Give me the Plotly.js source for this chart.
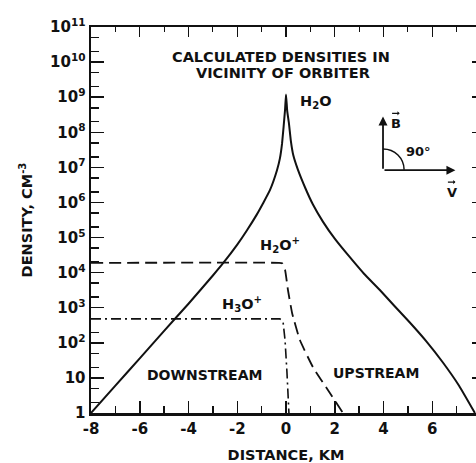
<!DOCTYPE html>
<html>
<head>
<meta charset="utf-8">
<script src="https://cdn.plot.ly/plotly-3.0.1.min.js"></script>
<style>
html, body { margin: 0; padding: 0; overflow: hidden; background: #fff; }
#chart { width: 484px; height: 463px; }
</style>
</head>
<body>
<div id="chart"></div>
<script>
// Distance (km) and densities (cm^-3)
const h2oDist = [-8, -7, -6, -5, -4, -3, -2.58, -2, -1.6, -1.2, -0.94, -0.66, -0.37, -0.25, -0.16, -0.04, 0, 0.05, 0.12, 0.2, 0.3, 0.48, 0.8, 1.1, 1.52, 2.0, 2.62, 3.2, 3.85, 4.45, 5.08, 5.75, 6.43, 7.1, 7.75];
const h2oDens = [1, 6.0, 3.6e1, 2.2e2, 1.3e3, 8.3e3, 1.86e4, 6.3e4, 1.62e5, 4.5e5, 9.5e5, 2.24e6, 8.3e6, 1.8e7, 4.9e7, 4.3e8, 1.2e9, 4.0e8, 1.8e8, 5.6e7, 2.2e7, 8.9e6, 2.5e6, 8.9e5, 2.8e5, 9.3e4, 2.75e4, 9.3e3, 3.2e3, 1.12e3, 3.8e2, 1.12e2, 2.8e1, 6.0, 1];

const h2opDist = [-8, -0.3, -0.16, -0.04, 0.08, 0.25, 0.57, 1.11, 1.8, 2.34];
const h2opDens = [1.9e4, 1.9e4, 1.85e4, 1.2e4, 3.2e3, 7.1e2, 1.2e2, 2.0e1, 3.7, 1];

const h3opDist = [-8, -0.25, -0.12, -0.04, 0.04, 0.12];
const h3opDens = [4.8e2, 4.8e2, 3.9e2, 1.2e2, 1.4e1, 1];

const xTickVals = [-8, -6, -4, -2, 0, 2, 4, 6, 8];
const xTickText = ["-8", "-6", "-4", "-2", "0", "2", "4", "6", "8"];
const xMinorVals = [-7, -5, -3, -1, 1, 3, 5, 7];
const yTickVals = [1, 1e1, 1e2, 1e3, 1e4, 1e5, 1e6, 1e7, 1e8, 1e9, 1e10, 1e11];
const yTickText = ["1", "10", "10<sup>2</sup>", "10<sup>3</sup>", "10<sup>4</sup>", "10<sup>5</sup>", "10<sup>6</sup>", "10<sup>7</sup>", "10<sup>8</sup>", "10<sup>9</sup>", "10<sup>10</sup>", "10<sup>11</sup>"];
const yMinorVals = [];
for (let e = 0; e < 11; e++) { yMinorVals.push(2 * Math.pow(10, e)); yMinorVals.push(5 * Math.pow(10, e)); }

const FONT = "DejaVu Sans, Verdana, sans-serif";
const INK = "#111";

const traces = [
  { x: h2oDist, y: h2oDens, mode: "lines", line: { color: INK, width: 2, shape: "spline", smoothing: 0.4 }, showlegend: false, hoverinfo: "skip" },
  { x: h2opDist, y: h2opDens, mode: "lines", line: { color: INK, width: 1.8, dash: "12px,6px", shape: "spline", smoothing: 0.4 }, showlegend: false, hoverinfo: "skip" },
  { x: h3opDist, y: h3opDens, mode: "lines", line: { color: INK, width: 1.6, dash: "10px,4px,2px,4px" }, showlegend: false, hoverinfo: "skip" },
  { x: [null], y: [null], xaxis: "x2", yaxis: "y2", mode: "lines", showlegend: false, hoverinfo: "skip" }
];

const tf = { family: FONT, size: 15, color: INK, weight: "bold" };
const af = { family: FONT, size: 14.5, color: INK, weight: "bold" };
const sf = { family: FONT, size: 13, color: INK, weight: "bold" };

const layout = {
  width: 484, height: 463,
  margin: { l: 91, r: 3, t: 27, b: 50 },
  paper_bgcolor: "#fff", plot_bgcolor: "#fff",
  showlegend: false,
  xaxis: {
    range: [-8, 8], showgrid: false, zeroline: false, showline: true, linecolor: INK, linewidth: 2.5,
    tickmode: "array", tickvals: xTickVals, ticktext: xTickText,
    ticks: "inside", ticklen: 12, tickwidth: 1.5, tickcolor: INK, tickfont: tf,
    minor: { tickmode: "array", tickvals: xMinorVals, ticks: "inside", ticklen: 7, tickwidth: 1.5, tickcolor: INK, showgrid: false },
    title: { text: "DISTANCE, KM", font: af, standoff: 14 }
  },
  yaxis: {
    type: "log", range: [0, 11], showgrid: false, zeroline: false, showline: true, linecolor: INK, linewidth: 2.5,
    tickmode: "array", tickvals: yTickVals, ticktext: yTickText,
    ticks: "inside", ticklen: 13, tickwidth: 1.5, tickcolor: INK, tickfont: tf,
    minor: { tickmode: "array", tickvals: yMinorVals, ticks: "inside", ticklen: 8, tickwidth: 1.5, tickcolor: INK, showgrid: false },
    title: { text: "DENSITY, CM<sup>-3</sup>", font: af, standoff: 14 }
  },
  xaxis2: {
    overlaying: "x", side: "top", range: [-8, 8], showgrid: false, zeroline: false, showline: true, linecolor: INK, linewidth: 2.5,
    tickmode: "array", tickvals: xTickVals, showticklabels: false,
    ticks: "inside", ticklen: 10, tickwidth: 1.2, tickcolor: INK,
    minor: { tickmode: "array", tickvals: xMinorVals, ticks: "inside", ticklen: 5, tickwidth: 1.2, tickcolor: INK, showgrid: false }
  },
  yaxis2: {
    overlaying: "y", side: "right", type: "log", range: [0, 11], showgrid: false, zeroline: false, showline: true, linecolor: INK, linewidth: 2.5,
    tickmode: "array", tickvals: yTickVals, showticklabels: false,
    ticks: "inside", ticklen: 9, tickwidth: 1.5, tickcolor: INK,
    minor: { tickmode: "array", tickvals: yMinorVals, ticks: "inside", ticklen: 4, tickwidth: 1.2, tickcolor: INK, showgrid: false }
  },
  annotations: [
    { x: -0.2, y: 10.14, text: "CALCULATED DENSITIES IN", showarrow: false, font: af },
    { x: -0.12, y: 9.69, text: "VICINITY OF ORBITER", showarrow: false, font: af },
    { x: 1.25, y: 8.85, text: "H<sub>2</sub>O", showarrow: false, font: af },
    { x: -0.25, y: 4.79, text: "H<sub>2</sub>O<sup>+</sup>", showarrow: false, font: af },
    { x: -1.8, y: 3.1, text: "H<sub>3</sub>O<sup>+</sup>", showarrow: false, font: af },
    { x: -3.36, y: 1.08, text: "DOWNSTREAM", showarrow: false, font: { family: FONT, size: 14, color: INK, weight: "bold" } },
    { x: 3.69, y: 1.14, text: "UPSTREAM", showarrow: false, font: { family: FONT, size: 14, color: INK, weight: "bold" } },
    // vector diagram
    { x: 3.98, y: 8.45, ax: 3.98, ay: 6.92, xref: "x", yref: "y", axref: "x", ayref: "y", text: "", showarrow: true, arrowhead: 2, arrowsize: 1, arrowwidth: 1.8, arrowcolor: INK },
    { x: 6.95, y: 6.92, ax: 3.98, ay: 6.92, xref: "x", yref: "y", axref: "x", ayref: "y", text: "", showarrow: true, arrowhead: 2, arrowsize: 1, arrowwidth: 1.8, arrowcolor: INK },
    { x: 4.51, y: 8.24, text: "B", showarrow: false, font: sf },
    { x: 4.66, y: 8.54, ax: -9, ay: 0, text: "", showarrow: true, arrowhead: 1, arrowsize: 0.6, arrowwidth: 1.2, arrowcolor: INK },
    { x: 5.45, y: 7.46, text: "90°", showarrow: false, font: sf },
    { x: 6.80, y: 6.28, text: "V", showarrow: false, font: sf },
    { x: 6.95, y: 6.58, ax: -9, ay: 0, text: "", showarrow: true, arrowhead: 1, arrowsize: 0.6, arrowwidth: 1.2, arrowcolor: INK }
  ],
  shapes: [
    { type: "path", xref: "paper", yref: "paper",
      path: "M 0.749,0.684 C 0.7787,0.684 0.8028,0.6598 0.8028,0.630",
      line: { color: INK, width: 1.5 } }
  ]
};

Plotly.newPlot("chart", traces, layout, { displayModeBar: false, staticPlot: true });
</script>
</body>
</html>
